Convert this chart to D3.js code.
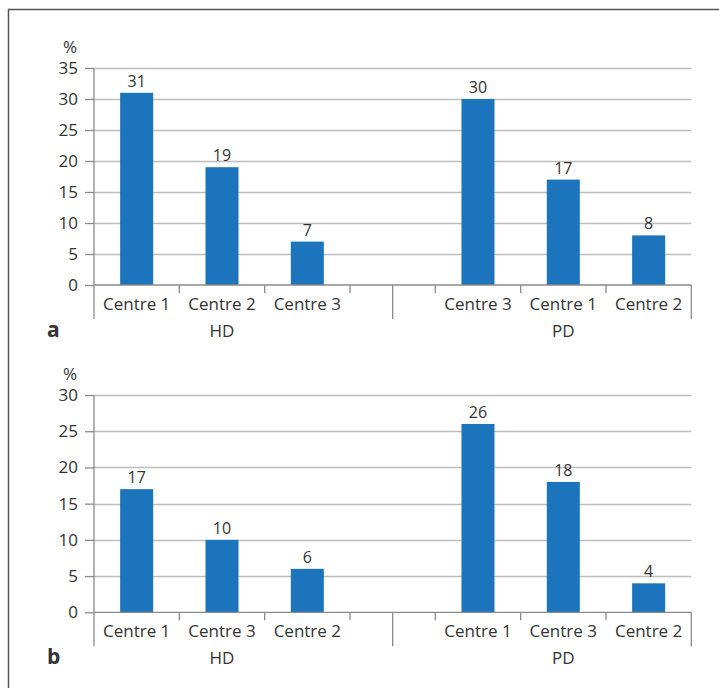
<!DOCTYPE html>
<html>
<head>
<meta charset="utf-8">
<script src="https://cdn.jsdelivr.net/npm/d3@7"></script>
<style>
  html, body { margin: 0; padding: 0; background: #fff; }
  svg { display: block; }
  text { font-family: "Open Sans", "Noto Sans", sans-serif; fill: #333; }
</style>
</head>
<body>
<svg id="chart" width="719" height="688"></svg>
<script>
// ---- data ----
const groups = ["HD", "PD"];
const panelA_HD_categories = ["Centre 1", "Centre 2", "Centre 3"];
const panelA_HD_values = [31, 19, 7];
const panelA_PD_categories = ["Centre 3", "Centre 1", "Centre 2"];
const panelA_PD_values = [30, 17, 8];
const panelA_yTicks = [0, 5, 10, 15, 20, 25, 30, 35];

const panelB_HD_categories = ["Centre 1", "Centre 3", "Centre 2"];
const panelB_HD_values = [17, 10, 6];
const panelB_PD_categories = ["Centre 1", "Centre 3", "Centre 2"];
const panelB_PD_values = [26, 18, 4];
const panelB_yTicks = [0, 5, 10, 15, 20, 25, 30];

const panelLabels = ["a", "b"];
const yUnit = "%";

const svg = d3.select("#chart");

// frame (top and left borders)
svg.append("path")
  .attr("d", "M8.5,688 L8.5,9.5 L719,9.5")
  .attr("fill", "none").attr("stroke", "#555").attr("stroke-width", 1.5);

function drawPanel(opts) {
  const { hdCats, hdVals, pdCats, pdVals, ticks, top, bottom, label } = opts;
  const left = 94, right = 691.3;
  const slots = hdCats.map((c, i) => "HD|" + i)
    .concat(["gap"])
    .concat(pdCats.map((c, i) => "PD|" + i));
  const x = d3.scaleBand().domain(slots).range([left, right]).padding(0);
  const y = d3.scaleLinear().domain([0, d3.max(ticks)]).range([bottom, top]);
  const bw = x.bandwidth() * 0.387;

  const g = svg.append("g");

  // gridlines
  g.append("g").selectAll("line").data(ticks.filter(t => t > 0)).join("line")
    .attr("x1", left).attr("x2", right)
    .attr("y1", d => Math.round(y(d)) + 0.5).attr("y2", d => Math.round(y(d)) + 0.5)
    .attr("stroke", "#bdbdbd").attr("stroke-width", 1.3);

  // y axis
  const yAxis = d3.axisLeft(y).tickValues(ticks).tickSize(9).tickPadding(7);
  const ya = g.append("g").attr("transform", `translate(${left},0)`).call(yAxis);
  ya.select(".domain").remove();
  ya.selectAll(".tick line").attr("stroke", "#8a8a8a").attr("stroke-width", 1.3);
  ya.selectAll(".tick text").attr("font-size", 17).attr("fill", "#333")
    .attr("font-family", '"Open Sans", "Noto Sans", sans-serif');

  // bars
  const data = hdCats.map((c, i) => ({ key: "HD|" + i, cat: c, v: hdVals[i] }))
    .concat(pdCats.map((c, i) => ({ key: "PD|" + i, cat: c, v: pdVals[i] })));
  g.append("g").selectAll("rect").data(data).join("rect")
    .attr("x", d => x(d.key) + (x.bandwidth() - bw) / 2)
    .attr("width", bw)
    .attr("y", d => y(d.v))
    .attr("height", d => y(0) - y(d.v))
    .attr("fill", "#1c75bc");

  // value labels
  g.append("g").selectAll("text").data(data).join("text")
    .attr("x", d => x(d.key) + x.bandwidth() / 2)
    .attr("y", d => y(d.v) - 6)
    .attr("text-anchor", "middle").attr("font-size", 16)
    .text(d => d.v);

  // x axis line
  g.append("line").attr("x1", left).attr("x2", right)
    .attr("y1", y(0)).attr("y2", y(0))
    .attr("stroke", "#8a8a8a").attr("stroke-width", 1.3);
  // y axis line (extends down to group label area)
  g.append("line").attr("x1", left).attr("x2", left)
    .attr("y1", top).attr("y2", y(0) + 34)
    .attr("stroke", "#8a8a8a").attr("stroke-width", 1.3);

  // short category ticks
  const shortTicks = slots.filter(s => s !== "gap" && s !== "HD|0").map(s => x(s))
    .concat([x("gap")]);
  g.append("g").selectAll("line").data(shortTicks).join("line")
    .attr("x1", d => d).attr("x2", d => d)
    .attr("y1", y(0)).attr("y2", y(0) + 8)
    .attr("stroke", "#8a8a8a").attr("stroke-width", 1.3);
  // long group ticks
  const longTicks = [x("gap") + x.bandwidth() / 2, right];
  g.append("g").selectAll("line").data(longTicks).join("line")
    .attr("x1", d => d).attr("x2", d => d)
    .attr("y1", y(0)).attr("y2", y(0) + 34)
    .attr("stroke", "#8a8a8a").attr("stroke-width", 1.3);

  // category labels
  g.append("g").selectAll("text").data(data).join("text")
    .attr("x", d => x(d.key) + x.bandwidth() / 2)
    .attr("y", y(0) + 25)
    .attr("text-anchor", "middle").attr("font-size", 17)
    .text(d => d.cat);

  // group labels
  groups.forEach((grp, gi) => {
    const n = gi === 0 ? hdCats.length : pdCats.length;
    const first = x(grp + "|0");
    const last = x(grp + "|" + (n - 1)) + x.bandwidth();
    g.append("text").attr("x", (first + last) / 2).attr("y", y(0) + 52)
      .attr("text-anchor", "middle").attr("font-size", 17).text(grp);
  });

  // unit label
  g.append("text").attr("x", 70).attr("y", top - 15)
    .attr("text-anchor", "middle").attr("font-size", 17).text(yUnit);

  // panel label
  g.append("text").attr("x", 47).attr("y", y(0) + 52)
    .attr("font-size", 21).attr("font-weight", "bold").attr("fill", "#222").text(label);
}

drawPanel({ hdCats: panelA_HD_categories, hdVals: panelA_HD_values,
  pdCats: panelA_PD_categories, pdVals: panelA_PD_values,
  ticks: panelA_yTicks, top: 68, bottom: 285, label: panelLabels[0] });
drawPanel({ hdCats: panelB_HD_categories, hdVals: panelB_HD_values,
  pdCats: panelB_PD_categories, pdVals: panelB_PD_values,
  ticks: panelB_yTicks, top: 395, bottom: 612.3, label: panelLabels[1] });
</script>
</body>
</html>
